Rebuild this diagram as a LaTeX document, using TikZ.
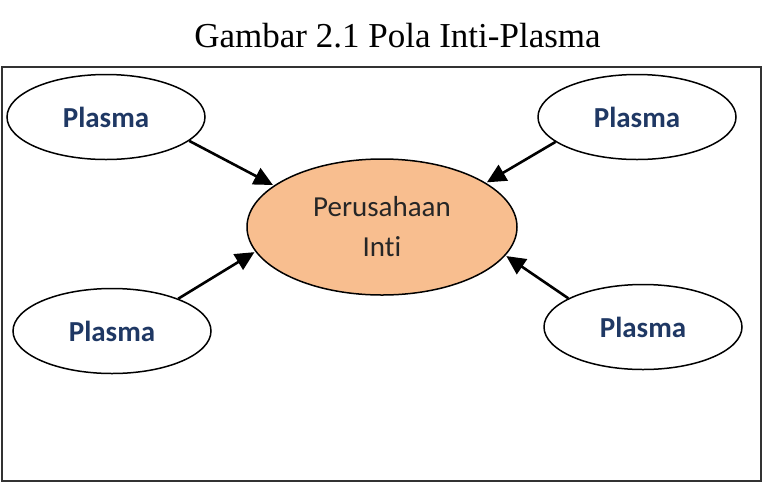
\documentclass[tikz,border=0pt]{standalone}
\usepackage{xcolor}
\usepackage{fontspec}
\usepackage{tikz}
\usetikzlibrary{shapes.geometric,arrows.meta}
\setmainfont{Liberation Serif}
\newfontfamily\calibri[Ligatures={NoCommon,NoRare,NoDiscretionary}]{Carlito}
\definecolor{plasmablue}{RGB}{31,56,100}
\definecolor{intiorange}{RGB}{248,190,143}
\tikzstyle{plasmanode} = [draw=black, line width=1.5pt, ellipse, inner sep=0pt, minimum width=198pt, minimum height=85pt, fill=white, text=plasmablue, font=\calibri\bfseries\fontsize{29}{35}\selectfont]
\tikzstyle{intinode} = [draw=black, line width=1.5pt, ellipse, inner sep=0pt, minimum width=270pt, minimum height=136pt, fill=intiorange, align=center, text=black!85, font=\calibri\fontsize{29}{40}\selectfont]
\tikzstyle{panah} = [line width=2.6pt, -{Triangle[length=19pt,width=18pt]}, shorten >=1pt]

\begin{document}
\begin{tikzpicture}[x=1pt,y=-1pt]
\useasboundingbox (0,0) rectangle (768,483);
\node [anchor=base, font=\fontsize{35}{42}\selectfont] (judul) at (397.5,47) {Gambar 2.1 Pola Inti-Plasma};
\draw [line width=2.2pt, black!80] (2,67) rectangle (761,481);   %bingkai

\node [intinode] (inti) at (382,227) {Perusahaan\\Inti};
\node [plasmanode] (plasmaA) at (106,117) {Plasma};
\node [plasmanode] (plasmaB) at (637,117) {Plasma};
\node [plasmanode] (plasmaC) at (112,331) {Plasma};
\node [plasmanode] (plasmaD) at (643,327) {Plasma};

\draw [panah] (plasmaA.-16) -- (inti.159);
\draw [panah] (plasmaB.-163) -- (inti.23);
\draw [panah] (plasmaC.26) -- (inti.191);
\draw [panah] (plasmaD.159) -- (inti.-13);
\end{tikzpicture}
\end{document}
